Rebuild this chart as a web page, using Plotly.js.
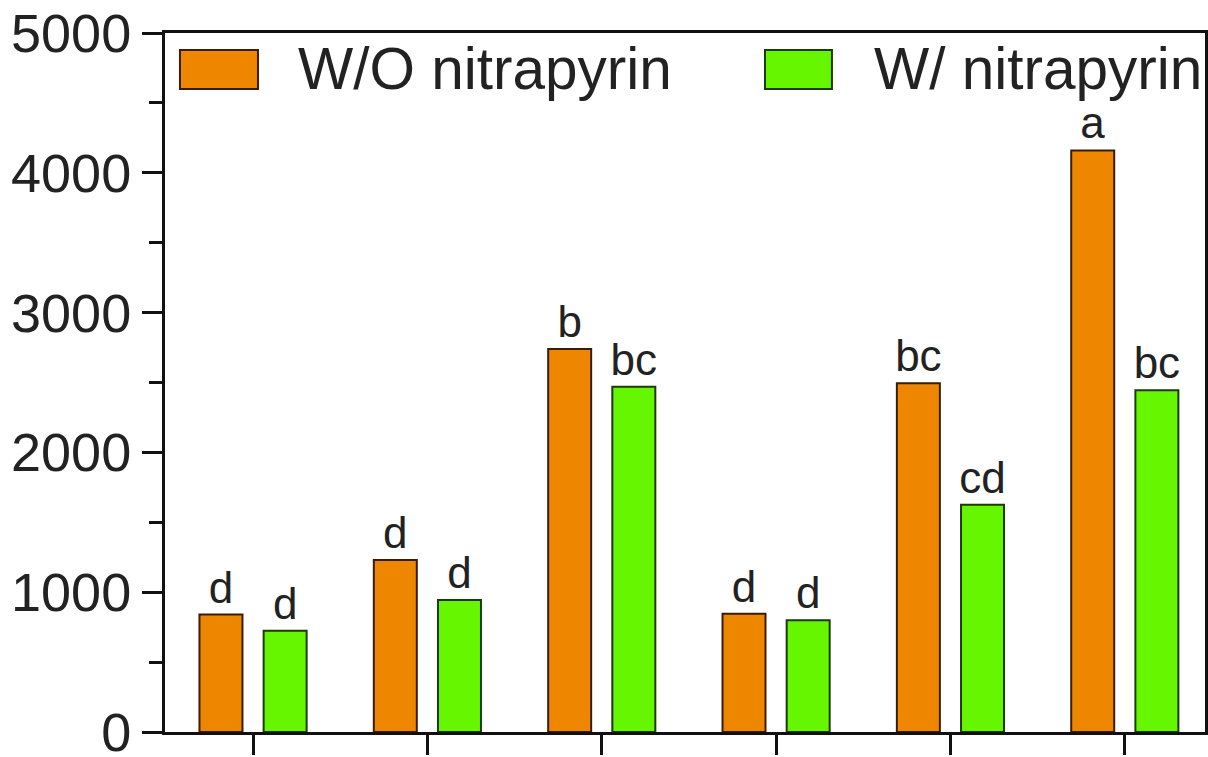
<!DOCTYPE html>
<html>
<head>
<meta charset="utf-8">
<script src="https://cdn.plot.ly/plotly-3.0.1.min.js"></script>
<style>
  html, body { margin: 0; padding: 0; background: #ffffff; }
  #chart { width: 1208px; height: 757px; }
</style>
</head>
<body>
<div id="chart"></div>
<script>
// Treatments (six groups, no tick labels drawn)
const groups = ["T1", "T2", "T3", "T4", "T5", "T6"];

// Series names
const nameWithout = "W/O nitrapyrin";
const nameWith = "W/ nitrapyrin";

// Values per treatment
const valuesWithout = [840, 1230, 2740, 845, 2495, 4160];
const valuesWith = [725, 945, 2470, 800, 1625, 2445];

// Significance letters above the bars
const lettersWithout = ["d", "d", "b", "d", "bc", "a"];
const lettersWith = ["d", "d", "bc", "d", "cd", "bc"];

// Y axis ticks
const yTickVals = [0, 1000, 2000, 3000, 4000, 5000];
const yTickText = ["0", "1000", "2000", "3000", "4000", "5000"];

const FONT = "Liberation Sans, Arial, Helvetica, sans-serif";
const orange = "#EF8600", orangeEdge = "#3a1c00";
const green = "#66F700", greenEdge = "#1c3a05";

const traces = [
  {
    type: "bar", name: nameWithout, x: groups, y: valuesWithout,
    text: lettersWithout, textposition: "outside", cliponaxis: false,
    constraintext: "none",
    textfont: { family: FONT, size: 44, color: "#222222" },
    marker: { color: orange, line: { color: orangeEdge, width: 2 } },
    hoverinfo: "skip"
  },
  {
    type: "bar", name: nameWith, x: groups, y: valuesWith,
    text: lettersWith, textposition: "outside", cliponaxis: false,
    constraintext: "none",
    textfont: { family: FONT, size: 44, color: "#222222" },
    marker: { color: green, line: { color: greenEdge, width: 2 } },
    hoverinfo: "skip"
  }
];

// Legend drawn in paper coordinates: swatches plus labels
const legendItems = [
  { label: nameWithout, fill: orange, edge: orangeEdge, x0: 0.0144, x1: 0.0894, tx: 0.1260 },
  { label: nameWith, fill: green, edge: greenEdge, x0: 0.5769, x1: 0.6413, tx: 0.6800 }
];

const shapes = legendItems.map(it => ({
  type: "rect", xref: "paper", yref: "paper",
  x0: it.x0, x1: it.x1, y0: 0.9199, y1: 0.9757,
  fillcolor: it.fill, line: { color: it.edge, width: 2 }
}));

const annotations = legendItems.map(it => ({
  xref: "paper", yref: "paper", x: it.tx, y: 0.9499,
  xanchor: "left", yanchor: "middle", showarrow: false,
  text: it.label, font: { family: FONT, size: 58.5, color: "#222222" }
}));

const layout = {
  width: 1208, height: 757,
  margin: { l: 165, r: 3, t: 33, b: 25, pad: 0 },
  paper_bgcolor: "#ffffff", plot_bgcolor: "#ffffff",
  showlegend: false,
  barmode: "group", bargap: 0.264, bargroupgap: 0.33,
  font: { family: FONT, color: "#222222" },
  xaxis: {
    type: "category", range: [-0.505, 5.46],
    showgrid: false, zeroline: false,
    showline: true, linecolor: "#111111", linewidth: 3, mirror: true,
    ticks: "outside", ticklen: 20, tickwidth: 3, tickcolor: "#111111",
    showticklabels: false, fixedrange: true
  },
  yaxis: {
    range: [0, 5000],
    showgrid: false, zeroline: false,
    showline: true, linecolor: "#111111", linewidth: 3, mirror: true,
    ticks: "outside", ticklen: 20, tickwidth: 3, tickcolor: "#111111",
    tickmode: "array", tickvals: yTickVals, ticktext: yTickText,
    ticklabeloverflow: "allow",
    tickfont: { family: FONT, size: 54, color: "#222222" },
    minor: { dtick: 500, ticks: "outside", ticklen: 13, tickwidth: 3, tickcolor: "#111111", showgrid: false },
    fixedrange: true
  },
  shapes: shapes,
  annotations: annotations
};

Plotly.newPlot("chart", traces, layout, { staticPlot: true, displayModeBar: false });
</script>
</body>
</html>
